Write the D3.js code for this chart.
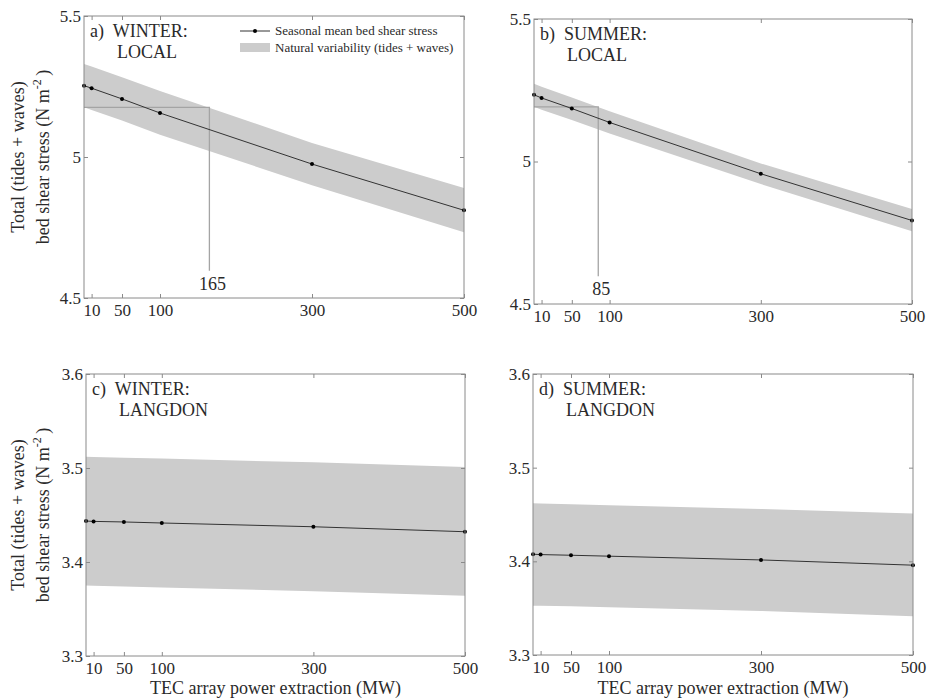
<!DOCTYPE html>
<html><head><meta charset="utf-8">
<script src="https://cdn.jsdelivr.net/npm/d3@7"></script>
<style>
body{margin:0;background:#fff}
svg{display:block;font-family:"Liberation Serif","Times New Roman",serif}
</style></head>
<body><svg id="c" width="928" height="699"></svg>
<script>
const powerMW = [0, 10, 50, 100, 300, 500];
const xTicks = [10, 50, 100, 300, 500];
const yTicksLocal = [4.5, 5, 5.5];
const yTicksLangdon = [3.3, 3.4, 3.5, 3.6];

const winterLocalMean  = [5.253, 5.244, 5.206, 5.156, 4.975, 4.811];
const winterLocalUpper = [5.330, 5.321, 5.283, 5.234, 5.050, 4.890];
const winterLocalLower = [5.176, 5.167, 5.129, 5.079, 4.900, 4.733];

const summerLocalMean  = [5.234, 5.223, 5.186, 5.137, 4.957, 4.793];
const summerLocalUpper = [5.273, 5.262, 5.225, 5.176, 4.993, 4.833];
const summerLocalLower = [5.192, 5.182, 5.146, 5.098, 4.921, 4.755];

const winterLangdonMean  = [3.4436, 3.4432, 3.4426, 3.4415, 3.4375, 3.4322];
const winterLangdonUpper = [3.512, 3.5118, 3.511, 3.510, 3.506, 3.501];
const winterLangdonLower = [3.375, 3.3748, 3.374, 3.373, 3.369, 3.364];

const summerLangdonMean  = [3.4076, 3.4072, 3.4065, 3.4055, 3.4015, 3.3959];
const summerLangdonUpper = [3.462, 3.4618, 3.461, 3.460, 3.456, 3.451];
const summerLangdonLower = [3.3527, 3.3525, 3.352, 3.351, 3.347, 3.3414];

const panelLabels = [["a)  WINTER:", "LOCAL"], ["b)  SUMMER:", "LOCAL"], ["c)  WINTER:", "LANGDON"], ["d)  SUMMER:", "LANGDON"]];
const thresholds = [{x: 165, y: 5.176, yEnd: 4.597, label: "165"}, {x: 85, y: 5.192, yEnd: 4.597, label: "85"}];
const legendLabels = ["Seasonal mean bed shear stress", "Natural variability (tides + waves)"];
const yTitle = ["Total (tides + waves)", "bed shear stress (N m", "-2", ")"];
const xTitle = "TEC array power extraction (MW)";

const svg = d3.select("#c");
const FRAME = "#8a8a8a", TXT = "#2a2a2a", BAND = "#cccccc";

const panels = [
  {l: 84, r: 464, t: 16, b: 298, dom: [4.5, 5.5], yt: yTicksLocal, mean: winterLocalMean, up: winterLocalUpper, lo: winterLocalLower, lab: panelLabels[0], thr: thresholds[0], legend: true, yTitle: true},
  {l: 534, r: 912, t: 19, b: 304, dom: [4.5, 5.5], yt: yTicksLocal, mean: summerLocalMean, up: summerLocalUpper, lo: summerLocalLower, lab: panelLabels[1], thr: thresholds[1]},
  {l: 86, r: 465, t: 374, b: 656, dom: [3.3, 3.6], yt: yTicksLangdon, mean: winterLangdonMean, up: winterLangdonUpper, lo: winterLangdonLower, lab: panelLabels[2], yTitle: true, xTitle: true},
  {l: 533, r: 913, t: 374, b: 655, dom: [3.3, 3.6], yt: yTicksLangdon, mean: summerLangdonMean, up: summerLangdonUpper, lo: summerLangdonLower, lab: panelLabels[3], xTitle: true}
];

panels.forEach(p => {
  const x = d3.scaleLinear().domain([0, 500]).range([p.l, p.r]);
  const y = d3.scaleLinear().domain(p.dom).range([p.b, p.t]);
  const g = svg.append("g");
  const rows = powerMW.map((m, i) => ({m, mean: p.mean[i], up: p.up[i], lo: p.lo[i]}));

  g.append("path").datum(rows)
    .attr("d", d3.area().x(d => x(d.m)).y0(d => y(d.lo)).y1(d => y(d.up)))
    .attr("fill", BAND);

  if (p.thr) {
    g.append("path")
      .attr("d", d3.line()([[x(0), y(p.thr.y)], [x(p.thr.x), y(p.thr.y)], [x(p.thr.x), y(p.thr.yEnd)]]))
      .attr("fill", "none").attr("stroke", "#a4a4a4").attr("stroke-width", 1.3);
    g.append("text").attr("x", x(p.thr.x) + 3).attr("y", y(p.thr.yEnd) + 19)
      .attr("text-anchor", "middle").attr("font-size", 18).attr("fill", TXT).text(p.thr.label);
  }

  g.append("path").datum(rows)
    .attr("d", d3.line().x(d => x(d.m)).y(d => y(d.mean)))
    .attr("fill", "none").attr("stroke", "#333").attr("stroke-width", 1);
  g.selectAll("circle").data(rows).join("circle")
    .attr("cx", d => x(d.m)).attr("cy", d => y(d.mean)).attr("r", 2).attr("fill", "#000");

  g.append("rect").attr("x", p.l).attr("y", p.t).attr("width", p.r - p.l).attr("height", p.b - p.t)
    .attr("fill", "none").attr("stroke", FRAME).attr("stroke-width", 1);

  const fmt = d3.format("");
  const styleAxis = (sel, labels) => {
    sel.select(".domain").remove();
    sel.selectAll(".tick line").attr("stroke", FRAME);
    sel.selectAll(".tick text").attr("font-size", 17).attr("fill", TXT)
      .attr("font-family", "Liberation Serif");
    if (!labels) sel.selectAll(".tick text").remove();
  };
  g.append("g").attr("transform", `translate(0,${p.b})`)
    .call(d3.axisBottom(x).tickValues(xTicks).tickSize(-4).tickPadding(6).tickFormat(fmt))
    .call(s => styleAxis(s, true));
  g.append("g").attr("transform", `translate(0,${p.t})`)
    .call(d3.axisTop(x).tickValues(xTicks).tickSize(-4))
    .call(s => styleAxis(s, false));
  g.append("g").attr("transform", `translate(${p.l},0)`)
    .call(d3.axisLeft(y).tickValues(p.yt).tickSize(-4).tickPadding(3).tickFormat(d3.format("")))
    .call(s => styleAxis(s, true));
  g.append("g").attr("transform", `translate(${p.r},0)`)
    .call(d3.axisRight(y).tickValues(p.yt).tickSize(-4))
    .call(s => styleAxis(s, false));

  g.append("text").attr("x", p.l + 6).attr("y", p.t + 21).attr("font-size", 18).attr("fill", TXT)
    .attr("xml:space", "preserve").style("white-space", "pre").text(p.lab[0]);
  g.append("text").attr("x", p.l + 33).attr("y", p.t + 42).attr("font-size", 18).attr("fill", TXT).text(p.lab[1]);

  if (p.legend) {
    const lx = 240, ly = 31;
    g.append("line").attr("x1", lx).attr("x2", lx + 30).attr("y1", ly).attr("y2", ly).attr("stroke", "#333");
    g.append("circle").attr("cx", lx + 15).attr("cy", ly).attr("r", 2).attr("fill", "#000");
    g.append("rect").attr("x", lx).attr("y", 43).attr("width", 30).attr("height", 9).attr("fill", BAND);
    g.append("text").attr("x", lx + 35).attr("y", ly + 4).attr("font-size", 13).attr("fill", TXT).text(legendLabels[0]);
    g.append("text").attr("x", lx + 35).attr("y", 51.5).attr("font-size", 13).attr("fill", TXT).text(legendLabels[1]);
  }

  if (p.yTitle) {
    const cy = (p.t + p.b) / 2;
    g.append("text").attr("transform", `translate(24,${cy}) rotate(-90)`)
      .attr("text-anchor", "middle").attr("font-size", 18).attr("fill", TXT).text(yTitle[0]);
    const t2 = g.append("text").attr("transform", `translate(49,${cy}) rotate(-90)`)
      .attr("text-anchor", "middle").attr("font-size", 18).attr("fill", TXT);
    t2.append("tspan").text(yTitle[1]);
    t2.append("tspan").attr("dy", -8).attr("font-size", 12).text(yTitle[2]);
    t2.append("tspan").attr("dy", 8).text("\u2009" + yTitle[3]);
  }
  if (p.xTitle) {
    g.append("text").attr("x", (p.l + p.r) / 2).attr("y", 694).attr("text-anchor", "middle")
      .attr("font-size", 18).attr("fill", TXT).text(xTitle);
  }
});
</script></body></html>
